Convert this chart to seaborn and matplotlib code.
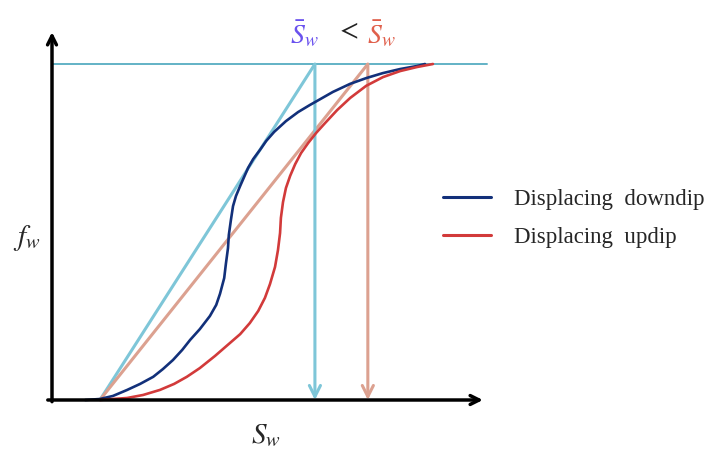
import matplotlib
matplotlib.use('Agg')
import matplotlib.pyplot as plt
import seaborn as sns
import pandas as pd
from matplotlib.lines import Line2D

sns.set_theme(style='white')
plt.rcParams['font.family'] = ['Liberation Serif', 'DejaVu Serif']
plt.rcParams['mathtext.fontset'] = 'stix'

# ---- data (Sw, fw in normalised units) ----
series_names = ['Displacing  downdip', 'Displacing  updip']
sw_downdip = [0.079, 0.114, 0.145, 0.179, 0.210, 0.241, 0.264, 0.288, 0.310, 0.329,
              0.352, 0.376, 0.391, 0.400, 0.410, 0.414, 0.419, 0.421, 0.426, 0.431,
              0.438, 0.448, 0.467, 0.479, 0.495, 0.510, 0.529, 0.557, 0.586, 0.614,
              0.631, 0.669, 0.710, 0.748, 0.788, 0.829, 0.869, 0.888]
fw_downdip = [0.000, 0.003, 0.012, 0.030, 0.048, 0.069, 0.092, 0.119, 0.149, 0.179,
              0.211, 0.250, 0.283, 0.316, 0.363, 0.405, 0.452, 0.491, 0.536, 0.577,
              0.607, 0.637, 0.691, 0.717, 0.744, 0.771, 0.798, 0.830, 0.857, 0.878,
              0.890, 0.917, 0.941, 0.958, 0.973, 0.985, 0.994, 1.000]
sw_updip = [0.114, 0.145, 0.179, 0.217, 0.257, 0.291, 0.321, 0.352, 0.388, 0.424,
            0.448, 0.471, 0.491, 0.507, 0.519, 0.531, 0.538, 0.543, 0.545, 0.550,
            0.557, 0.567, 0.579, 0.593, 0.610, 0.629, 0.650, 0.679, 0.710, 0.748,
            0.788, 0.829, 0.869, 0.907]
fw_updip = [0.000, 0.003, 0.006, 0.015, 0.030, 0.048, 0.069, 0.095, 0.131, 0.170,
            0.196, 0.229, 0.265, 0.304, 0.345, 0.396, 0.446, 0.497, 0.542, 0.589,
            0.631, 0.667, 0.702, 0.735, 0.765, 0.795, 0.824, 0.863, 0.899, 0.935,
            0.961, 0.979, 0.991, 1.000]
sw_origin = 0.114          # start of the tangent lines
sw_bar_downdip = 0.626     # average saturation behind front, downdip
sw_bar_updip = 0.752       # average saturation behind front, updip
fw_max = 1.0

c_down = '#12307a'
c_up = '#d23a3a'
c_tan_down = '#7ec6d8'
c_tan_up = '#dca190'
c_top = '#62b2c6'

df = pd.concat([
    pd.DataFrame({'Sw': sw_downdip, 'fw': fw_downdip, 'case': series_names[0]}),
    pd.DataFrame({'Sw': sw_updip, 'fw': fw_updip, 'case': series_names[1]}),
])

fig = plt.figure(figsize=(7.14, 4.53), dpi=100)
ax = fig.add_axes([52 / 714, (453 - 400) / 453, 420 / 714, 336 / 453])
ax.set_xlim(0, 1)
ax.set_ylim(0, 1)
ax.axis('off')

# top line fw = 1
ax.plot([0, 1.036], [fw_max, fw_max], color=c_top, lw=1.4, clip_on=False, zorder=1)

# tangent lines
ax.plot([sw_origin, sw_bar_downdip], [0, fw_max], color=c_tan_down, lw=2.2,
        clip_on=False, zorder=2, solid_capstyle='butt')
ax.plot([sw_origin, sw_bar_updip], [0, fw_max], color=c_tan_up, lw=2.2,
        clip_on=False, zorder=2, solid_capstyle='butt')

# vertical arrows
for sw, col in [(sw_bar_downdip, c_tan_down), (sw_bar_updip, c_tan_up)]:
    ax.annotate('', xy=(sw, 0), xytext=(sw, fw_max), annotation_clip=False,
                arrowprops=dict(arrowstyle='->', color=col, lw=2.2,
                                shrinkA=0, shrinkB=0, mutation_scale=20),
                zorder=3)

# fractional flow curves
sns.lineplot(data=df, x='Sw', y='fw', hue='case', palette=[c_down, c_up],
             sort=False, estimator=None, lw=1.9, legend=False, ax=ax, zorder=4)
for l in ax.get_lines():
    l.set_clip_on(False)
    l.set_solid_joinstyle('round')

# axes with arrows
ax.annotate('', xy=(1.026, 0), xytext=(-0.01, 0), annotation_clip=False,
            arrowprops=dict(arrowstyle='->', color='black', lw=2.5,
                            shrinkA=0, shrinkB=0, mutation_scale=16), zorder=5)
ax.annotate('', xy=(0, 1.095), xytext=(0, -0.005), annotation_clip=False,
            arrowprops=dict(arrowstyle='->', color='black', lw=2.5,
                            shrinkA=0, shrinkB=0, mutation_scale=16), zorder=5)
ax.set_xlabel('')
ax.set_ylabel('')

# axis labels
fig.text(27 / 714, 1 - 238 / 453, r'$f_w$', fontsize=21, ha='center', va='center')
fig.text(266 / 714, 1 - 436 / 453, r'$S_w$', fontsize=21, ha='center', va='center')

# title comparison
fig.text(304 / 714, 1 - 34 / 453, r'$\bar{S}_w$', fontsize=20, color='#6a52ee',
         ha='center', va='center')
fig.text(347 / 714, 1 - 32 / 453, r'$<$', fontsize=20, color='#222222',
         ha='center', va='center')
fig.text(381 / 714, 1 - 34 / 453, r'$\bar{S}_w$', fontsize=20, color='#e0604c',
         ha='center', va='center')

# legend
handles = [Line2D([], [], color=c_down, lw=2.2), Line2D([], [], color=c_up, lw=2.2)]
ax.legend(handles, series_names, loc='upper left',
          bbox_to_anchor=(443 / 714, 1 - 189 / 453), bbox_transform=fig.transFigure,
          frameon=False, fontsize=16.5, handlelength=2.1, handletextpad=1.0,
          labelspacing=0.72, borderpad=0, borderaxespad=0)

fig.savefig('out.png', dpi=100)
